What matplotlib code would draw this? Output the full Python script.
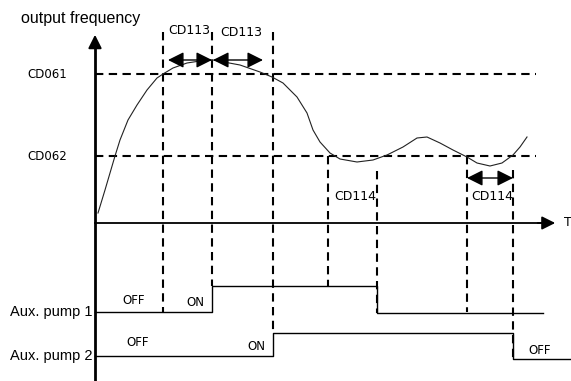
import matplotlib
matplotlib.use('Agg')
import matplotlib.pyplot as plt

# frequency curve (pixel coords, y grows downwards)
curve_x = [98, 105, 110, 115, 120, 128, 137, 147, 157, 163, 173, 187, 200, 213,
           240, 260, 272, 283, 297, 307, 313, 320, 330, 340, 357, 373, 387, 403,
           417, 427, 440, 453, 467, 477, 490, 502, 513, 520, 527]
curve_y = [213, 190, 173, 156, 140, 120, 105, 90, 78, 74, 68, 63, 61, 60,
           65, 72, 77, 83, 97, 113, 130, 142, 153, 159, 162, 160, 155, 147,
           138, 137, 143, 150, 157, 163, 166, 163, 155, 147, 137]

# reference levels
level_names = ['CD061', 'CD062']
level_y = [74, 156]

# vertical dashed markers: x, top, bottom
marks_x = [163, 212, 273, 328, 377, 467, 513]
marks_top = [32, 32, 32, 156, 171, 156, 170]
marks_bot = [312, 286, 333, 286, 313, 312, 358]

# pump step signals
pump1_x = [95, 212, 212, 377, 377, 543]
pump1_y = [312, 312, 286, 286, 313, 313]
pump2_x = [95, 273, 273, 513, 513, 570]
pump2_y = [356, 356, 333, 333, 359, 359]

# state labels: text, x, y
state_txt = ['OFF', 'ON', 'OFF', 'ON', 'OFF']
state_x = [134, 195, 138, 256, 540]
state_y = [300, 303, 343, 346, 351]

# timer labels
timer_txt = ['CD113', 'CD113', 'CD114', 'CD114']
timer_x = [189, 241, 355, 492]
timer_y = [31, 33, 196, 196]
span_x0 = [168, 213, 467]
span_x1 = [212, 263, 513]
span_y = [60, 60, 178]

W, H = 571, 381
fig = plt.figure(figsize=(W / 100, H / 100), dpi=100)
ax = fig.add_axes([0, 0, 1, 1])
ax.set_xlim(0, W)
ax.set_ylim(H, 0)
ax.axis('off')

GEO = 'DejaVu Sans'
ARIAL = 'Liberation Sans'
dash = dict(color='black', lw=1.5, dashes=(4, 2.6))

# axes
ax.plot([95, 95], [381, 45], color='black', lw=2.0)
ax.annotate('', xy=(95, 32), xytext=(95, 50),
            arrowprops=dict(arrowstyle='-|>', color='black', lw=1.5, mutation_scale=20))
ax.plot([95, 545], [223, 223], color='black', lw=1.3)
ax.annotate('', xy=(558, 223), xytext=(535, 223),
            arrowprops=dict(arrowstyle='-|>', color='black', lw=1.3, mutation_scale=20))
ax.text(564, 223, 'T', fontsize=9, family=GEO, va='center', ha='left')
ax.text(21, 18, 'output frequency', fontsize=11.5, family=ARIAL, va='center', ha='left')

# levels
for name, y in zip(level_names, level_y):
    ax.plot([95, 536], [y, y], **dash)
    ax.text(27, y, name, fontsize=8.5, family=GEO, va='center', ha='left')

for x, t, b in zip(marks_x, marks_top, marks_bot):
    ax.plot([x, x], [t, b], **dash)

ax.plot(curve_x, curve_y, color='#222222', lw=0.8)

# pumps
ax.plot(pump1_x, pump1_y, color='black', lw=1.0)
ax.plot(pump2_x, pump2_y, color='black', lw=1.0)
ax.text(92, 312, 'Aux. pump 1', fontsize=10.5, family=ARIAL, va='center', ha='right')
ax.text(92, 356, 'Aux. pump 2', fontsize=10.5, family=ARIAL, va='center', ha='right')
for t, x, y in zip(state_txt, state_x, state_y):
    ax.text(x, y, t, fontsize=8.5, family=GEO, va='center', ha='center')

# timers
for t, x, y in zip(timer_txt, timer_x, timer_y):
    ax.text(x, y, t, fontsize=9, family=GEO, va='center', ha='center')
for x0, x1, y in zip(span_x0, span_x1, span_y):
    ax.annotate('', xy=(x1, y), xytext=(x0, y),
                arrowprops=dict(arrowstyle='<|-|>', color='black', lw=1.0,
                                mutation_scale=24, shrinkA=0, shrinkB=0))

fig.savefig('out.png', dpi=100)
